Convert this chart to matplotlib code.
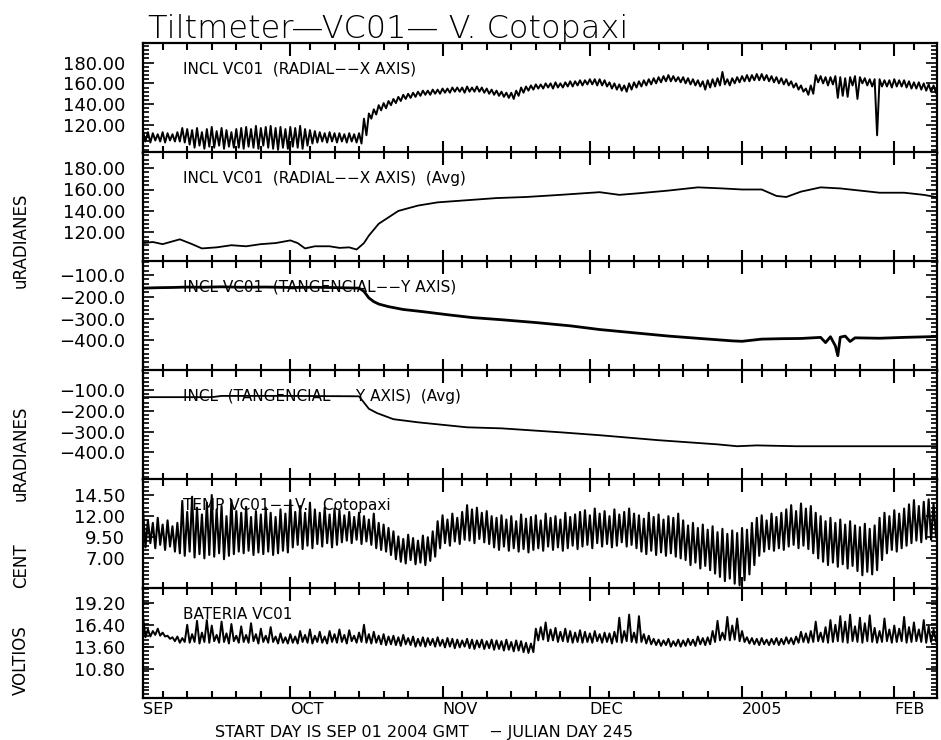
import numpy as np
import matplotlib.pyplot as plt
from matplotlib.ticker import FixedLocator, MultipleLocator

# Time axis: days since 2004-09-01
MONTH_DAYS = [0, 30, 61, 91, 122, 153]
MONTH_NAMES = ['SEP', 'OCT', 'NOV', 'DEC', '2005', 'FEB']
END_DAY = 161.7

# INCL VC01 radial (raw): daily high / low of the trace
RAD_HI = [114, 113, 112, 111, 113, 112, 111, 113, 117, 116,
          115, 117, 113, 116, 118, 114, 117, 115, 113, 116,
          117, 118, 116, 119, 117, 118, 119, 117, 118, 116,
          118, 117, 119, 116, 115, 114, 113, 112, 113, 112,
          112, 111, 112, 111, 112, 126, 131, 135, 139, 141,
          143, 145, 147, 149, 150, 151, 152, 153, 153, 154,
          154, 155, 155, 156, 156, 156, 157, 156, 157, 156,
          155, 154, 153, 152, 151, 151, 153, 156, 157, 158,
          159, 159, 160, 160, 161, 160, 161, 162, 162, 163,
          163, 164, 164, 164, 163, 161, 160, 159, 158, 160,
          161, 162, 163, 164, 165, 166, 167, 168, 167, 166,
          166, 165, 164, 163, 162, 163, 164, 165, 171, 164,
          165, 166, 167, 168, 168, 169, 169, 168, 167, 166,
          165, 164, 162, 160, 158, 155, 158, 168, 167, 166,
          166, 167, 166, 165, 166, 167, 166, 165, 164, 164,
          164, 163, 163, 164, 163, 163, 162, 161, 161, 160,
          159, 158]
RAD_LO = [104, 103, 105, 104, 103, 105, 104, 104, 103, 101,
          98, 100, 97, 99, 98, 100, 97, 99, 98, 98,
          97, 99, 98, 97, 100, 98, 97, 96, 98, 97,
          99, 98, 97, 100, 102, 103, 104, 103, 104, 103,
          104, 103, 104, 103, 102, 110, 126, 130, 134, 136,
          139, 141, 143, 145, 146, 147, 148, 149, 149, 150,
          150, 151, 151, 152, 152, 151, 152, 152, 152, 151,
          150, 149, 148, 147, 146, 145, 148, 151, 153, 154,
          155, 155, 156, 155, 156, 156, 157, 157, 158, 158,
          159, 159, 158, 158, 157, 155, 154, 153, 152, 154,
          156, 157, 158, 159, 160, 161, 162, 162, 162, 161,
          160, 159, 158, 157, 154, 156, 157, 158, 159, 158,
          160, 161, 162, 162, 163, 163, 163, 162, 161, 160,
          159, 158, 156, 154, 152, 149, 150, 161, 160, 158,
          159, 146, 148, 147, 158, 145, 160, 158, 157, 110,
          157, 157, 156, 157, 157, 156, 155, 155, 154, 153,
          152, 151]

# INCL VC01 radial (Avg)
RAD_AVG_DAY = [0, 2, 4, 7.5, 10, 12, 15, 18, 21, 24, 27, 30, 31.5, 33, 35, 38,
               40, 42, 43.5, 45, 46, 48, 52, 56, 60, 66, 72, 78, 85, 93, 97,
               101, 107, 113, 118, 122, 126, 129, 131, 134, 138, 142, 146, 150,
               155, 159, 161.7]
RAD_AVG = [110, 111, 109, 113.5, 109, 105, 106, 108, 107, 109, 110, 112.5, 110,
           105, 107, 107, 105.5, 106, 104, 110, 117, 128, 140, 145, 148, 150,
           152, 153, 155, 157.5, 155, 156.5, 159, 162, 161, 160, 160, 154, 153,
           158, 162, 161, 159, 157, 157, 155, 152.8]

# INCL VC01 tangencial (raw)
TAN_DAY = [0, 3, 6, 9, 12, 16, 20, 25, 30, 35, 40, 44, 45, 46, 47, 48, 50, 53,
           57, 62, 67, 73, 80, 87, 93, 100, 107, 114, 120, 122, 126, 130, 134,
           138, 139, 140, 141, 141.5, 142, 143, 144, 145, 150, 155, 161.7]
TAN = [-160, -158, -157, -155, -156, -154, -156, -155, -157, -156, -158, -160,
       -175, -205, -222, -233, -245, -258, -268, -282, -295, -305, -318, -333,
       -350, -365, -380, -392, -402, -404, -394, -392, -391, -386, -410, -383,
       -425, -470, -385, -380, -405, -388, -390, -386, -382]

# INCL tangencial (Avg)
TAN_AVG_DAY = [0, 14, 16, 30, 44, 44.6, 46, 47.7, 51, 56, 66, 73, 85, 93, 105,
               117, 121, 125, 133, 145, 161.7]
TAN_AVG = [-134, -134, -128, -128, -130, -148, -190, -211, -240, -255, -279,
           -284, -303, -317, -341, -361, -370, -366, -370, -370, -370]

# TEMP VC01: daily high / low
TEMP_HI = [12.7, 11.5, 11.2, 11.8, 11.0, 11.5, 10.8, 11.2, 13.8, 12.5,
           14.3, 13.0, 12.2, 13.6, 14.5, 12.8, 13.2, 12.0, 13.9, 12.6,
           12.4, 13.1, 11.9, 12.6, 12.2, 13.0, 12.4, 11.9, 12.8, 12.3,
           13.9, 12.5, 13.2, 12.4, 13.6, 12.8, 12.4, 13.0, 12.2, 12.9,
           12.7, 12.1, 12.5, 11.9, 12.4, 12.0, 11.6, 12.3, 11.2, 11.0,
           10.6, 10.2, 9.6, 9.3, 9.8, 9.4, 9.1, 9.7, 9.5, 10.2,
           11.4, 12.1, 11.6, 12.3, 11.8, 12.5, 13.3, 12.8, 13.0, 12.4,
           12.6, 12.0, 11.8, 12.1, 11.6, 12.0, 11.4, 12.2, 11.7, 11.9,
           12.1, 11.5, 12.3, 11.8, 12.0, 11.6, 12.4, 11.9, 12.2, 12.5,
           12.7, 12.1, 12.9, 12.3, 12.6, 12.0, 12.8, 12.2, 12.5, 12.9,
           12.3, 12.1, 11.7, 12.4, 11.9, 12.2, 11.6, 12.0, 11.8, 12.3,
           11.5, 10.9, 11.2, 10.6, 11.0, 10.4, 10.8, 10.1, 10.5, 9.9,
           10.3, 10.0, 10.6, 10.4, 11.2, 11.8, 12.1, 11.5, 12.3, 11.9,
           12.4, 12.8, 13.3, 12.6, 13.5, 12.9, 13.2, 12.4, 12.0, 11.4,
           11.8, 11.2, 11.6, 11.0, 11.4, 10.9, 10.7, 11.1, 10.5, 10.9,
           11.8, 12.4, 12.0, 12.7, 12.3, 12.9, 13.4, 13.9, 13.2, 13.7,
           14.0, 13.5]
TEMP_LO = [8.3, 8.8, 8.2, 8.6, 8.0, 8.4, 7.8, 7.6, 7.3, 7.8,
           7.1, 7.5, 7.0, 7.4, 7.2, 7.6, 6.9, 7.3, 7.5, 7.8,
           7.6, 7.9, 7.4, 7.7, 7.5, 7.8, 7.4, 7.6, 7.9, 7.7,
           8.3, 8.6, 8.1, 8.5, 8.2, 8.7, 8.4, 8.8, 8.3, 8.6,
           8.9, 9.1, 8.8, 9.2, 8.7, 9.0, 8.6, 8.2, 8.0, 7.8,
           7.4, 6.9, 6.6, 6.4, 6.8, 6.3, 6.5, 6.2, 6.7, 7.2,
           8.2, 8.8, 8.5, 9.0, 8.7, 9.2, 9.1, 8.8, 9.3, 8.9,
           8.7, 8.3, 8.0, 8.4, 7.9, 8.2, 7.8, 8.1, 7.7, 8.0,
           8.2, 7.9, 8.4, 8.0, 8.3, 7.9, 8.2, 8.5, 8.1, 8.4,
           8.6, 8.2, 8.8, 8.4, 8.7, 8.3, 8.5, 8.9, 8.4, 8.6,
           8.2, 7.8, 7.5, 7.9, 7.4, 7.7, 7.3, 7.6, 7.2, 7.0,
           6.8, 6.2, 6.5, 5.8, 6.1, 5.6, 5.2, 4.8, 4.3, 4.6,
           4.0, 3.8, 4.4, 5.1, 6.2, 7.3, 7.8, 8.1, 7.9, 8.2,
           8.0, 8.4, 8.6, 8.2, 8.5, 8.1, 7.6, 7.0, 6.6, 6.2,
           6.5, 6.0, 6.3, 5.8, 6.1, 5.5, 5.0, 5.4, 5.1, 5.6,
           6.8, 7.6, 8.0, 7.8, 8.2, 8.5, 8.8, 9.1, 8.9, 9.3,
           9.2, 9.5]

# BATERIA VC01: daily high / low
BAT_HI = [17.4, 15.8, 15.6, 15.9, 15.4, 15.0, 14.8, 14.9, 14.7, 16.4,
          15.2, 16.9, 15.4, 17.0, 16.3, 15.1, 16.8, 15.3, 16.5, 15.0,
          16.2, 15.1, 16.6, 15.2, 15.9, 15.0, 16.1, 14.9, 15.3, 14.8,
          15.2, 14.9, 15.6, 15.1, 15.8, 15.0, 15.5, 14.9, 15.6, 15.2,
          15.8, 15.1, 15.7, 15.0, 15.4, 16.4, 15.2, 15.5, 15.0, 15.2,
          14.9, 15.0, 14.8, 15.1, 14.7, 14.9, 14.6, 14.8, 14.7, 14.6,
          14.8, 14.5, 14.7, 14.6, 14.5, 14.4, 14.6, 14.5, 14.4, 14.5,
          14.3, 14.5, 14.4, 14.3, 14.5, 14.2, 14.4, 14.3, 14.1, 14.0,
          15.9, 16.1, 16.7, 15.8, 16.0, 15.5, 15.9, 15.6, 15.4, 15.7,
          15.5, 15.3, 15.6, 15.2, 15.4, 15.3, 15.5, 17.3, 15.6, 17.7,
          15.4, 17.5, 15.2, 15.0, 14.6, 14.5, 14.4, 14.6, 14.3, 14.5,
          14.4, 14.6, 14.5, 14.9, 14.7, 14.8, 15.6, 16.9, 15.4, 17.4,
          16.3, 17.2, 15.6, 14.8, 14.7, 14.6, 14.7, 14.5, 14.6, 14.7,
          14.6, 14.8, 14.7, 14.9, 15.5, 15.3, 15.6, 16.8, 15.4, 16.1,
          17.0, 16.4, 17.5, 16.8, 17.7, 16.2, 17.3, 16.6, 17.6, 16.0,
          15.6, 17.2, 15.8, 16.3, 15.9, 17.4, 16.1, 16.7, 15.8, 17.0,
          16.2, 15.8]
BAT_LO = [14.8, 14.9, 15.1, 15.0, 14.9, 14.6, 14.3, 14.1, 14.2, 14.1,
          14.2, 14.0, 14.2, 14.1, 14.3, 14.1, 14.2, 14.0, 14.3, 14.1,
          14.2, 14.1, 14.3, 14.0, 14.2, 14.1, 14.2, 14.0, 14.1, 14.0,
          14.1, 14.0, 14.2, 14.1, 14.0, 14.2, 14.1, 14.0, 14.2, 14.1,
          14.2, 14.0, 14.3, 14.1, 14.2, 14.1, 14.0, 14.1, 13.9, 13.8,
          13.9, 13.8, 13.7, 13.9, 13.8, 13.6, 13.7, 13.6, 13.8, 13.6,
          13.7, 13.5, 13.6, 13.4, 13.5, 13.6, 13.4, 13.3, 13.5, 13.3,
          13.4, 13.2, 13.3, 13.1, 13.2, 13.0, 13.1, 12.9, 12.8, 12.9,
          14.4, 14.5, 14.3, 14.4, 14.2, 14.3, 14.2, 14.1, 14.2, 14.1,
          14.2, 14.1, 14.3, 14.1, 14.2, 14.0, 14.2, 14.1, 14.3, 14.2,
          14.1, 14.2, 14.0, 13.9, 13.8, 13.7, 13.8, 13.6, 13.7, 13.6,
          13.7, 13.8, 13.7, 13.9, 13.8, 13.9, 14.2, 14.4, 14.5, 14.4,
          14.5, 14.3, 14.2, 14.0, 13.9, 13.8, 13.9, 13.8, 13.9, 13.8,
          13.9, 14.0, 13.9, 14.1, 14.2, 14.1, 14.2, 14.3, 14.2, 14.1,
          14.2, 14.3, 14.2, 14.1, 14.3, 14.2, 14.1, 14.3, 14.2, 14.1,
          14.2, 14.3, 14.1, 14.2, 14.3, 14.1, 14.2, 14.3, 14.2, 14.1,
          14.2, 14.3]

TITLES = ['INCL VC01  (RADIAL\u2212\u2212X AXIS)',
          'INCL VC01  (RADIAL\u2212\u2212X AXIS)  (Avg)',
          'INCL VC01  (TANGENCIAL\u2212\u2212Y AXIS)',
          'INCL  (TANGENCIAL\u2212\u2212Y AXIS)  (Avg)',
          'TEMP VC01\u2212\u2212V.   Cotopaxi',
          'BATERIA VC01']
YTICKS = [[180, 160, 140, 120],
          [180, 160, 140, 120],
          [-100, -200, -300, -400],
          [-100, -200, -300, -400],
          [14.5, 12.0, 9.5, 7.0],
          [19.2, 16.4, 13.6, 10.8]]


def zigzag(hi, lo):
    t = np.arange(len(hi))
    x = np.column_stack([t, t + 0.5]).ravel()
    y = np.column_stack([hi, lo]).ravel()
    return x, y


def fmt(v, decimals):
    return '{:.{}f}'.format(v, decimals).replace('-', '\u2212')


def style_axes(ax, ylim, yticks, decimals, minor_step, title, bottom):
    ax.set_xlim(0, END_DAY)
    ax.set_ylim(*ylim)
    minor = [m + d - 1 for m in MONTH_DAYS for d in (5, 10, 15, 20, 25)]
    ax.xaxis.set_major_locator(FixedLocator(MONTH_DAYS))
    ax.xaxis.set_minor_locator(FixedLocator([d for d in minor if d < END_DAY]))
    ax.tick_params(axis='x', which='both', direction='in', top=True, bottom=True,
                   width=1.5, labelbottom=bottom)
    ax.tick_params(axis='x', which='major', length=9)
    ax.tick_params(axis='x', which='minor', length=5)

    ax.set_yticks(yticks)
    ax.set_yticklabels([fmt(v, decimals) for v in yticks])
    ax.yaxis.set_minor_locator(MultipleLocator(minor_step))
    ax.tick_params(axis='y', which='both', direction='in', left=True, right=True,
                   width=1.2, labelsize=13, pad=13)
    ax.tick_params(axis='y', which='major', length=8)
    ax.tick_params(axis='y', which='minor', length=4)
    for sp in ax.spines.values():
        sp.set_linewidth(1.6)
    ax.text(0.05, 0.76, title, transform=ax.transAxes, fontsize=11, va='center')


def main():
    fig = plt.figure(figsize=(9.41, 7.40), dpi=100)
    W, H = 941, 740
    left, right = 143, 937
    tops = [43, 152, 261, 370, 479, 588]
    height = 109.5

    axes = []
    for top in tops:
        ax = fig.add_axes([left / W, 1 - (top + height) / H, (right - left) / W, height / H])
        axes.append(ax)

    ax1, ax2, ax3, ax4, ax5, ax6 = axes

    x, y = zigzag(RAD_HI, RAD_LO)
    ax1.plot(x, y, color='black', linewidth=1.4)
    ax2.plot(RAD_AVG_DAY, RAD_AVG, color='black', linewidth=1.3)
    ax3.plot(TAN_DAY, TAN, color='black', linewidth=2.0)
    ax4.plot(TAN_AVG_DAY, TAN_AVG, color='black', linewidth=1.3)
    x, y = zigzag(TEMP_HI, TEMP_LO)
    ax5.plot(x, y, color='black', linewidth=1.5)
    x, y = zigzag(BAT_HI, BAT_LO)
    ax6.plot(x, y, color='black', linewidth=1.4)

    ylims = [(93.4, 198.9), (92.8, 195.0), (-538, -35.5), (-530, -3.4),
             (3.43, 16.4), (7.1, 21.1)]
    decimals = [2, 2, 1, 1, 2, 2]
    steps = [4, 4, 20, 20, 0.5, 0.5]
    for i, ax in enumerate(axes):
        style_axes(ax, ylims[i], YTICKS[i], decimals[i], steps[i], TITLES[i], i == 5)

    ax6.set_xticklabels(MONTH_NAMES, ha='left', fontsize=11.5)
    ax6.tick_params(axis='x', which='major', pad=3)

    fig.text(148 / W, 1 - 38 / H, 'Tiltmeter\u2014VC01\u2014 V. Cotopaxi', fontsize=23,
             fontweight='light', va='baseline', ha='left')
    fig.text(215 / W, 1 - 732 / H, 'START DAY IS SEP 01 2004 GMT    \u2212 JULIAN DAY 245',
             fontsize=11.5, va='center', ha='left')

    for label, yc in [('uRADIANES', 240), ('uRADIANES', 453), ('CENT', 566), ('VOLTIOS', 660)]:
        fig.text(21 / W, 1 - yc / H, label, rotation=90, fontsize=12, va='center', ha='center')

    fig.savefig('out.png', dpi=100)


if __name__ == '__main__':
    main()
